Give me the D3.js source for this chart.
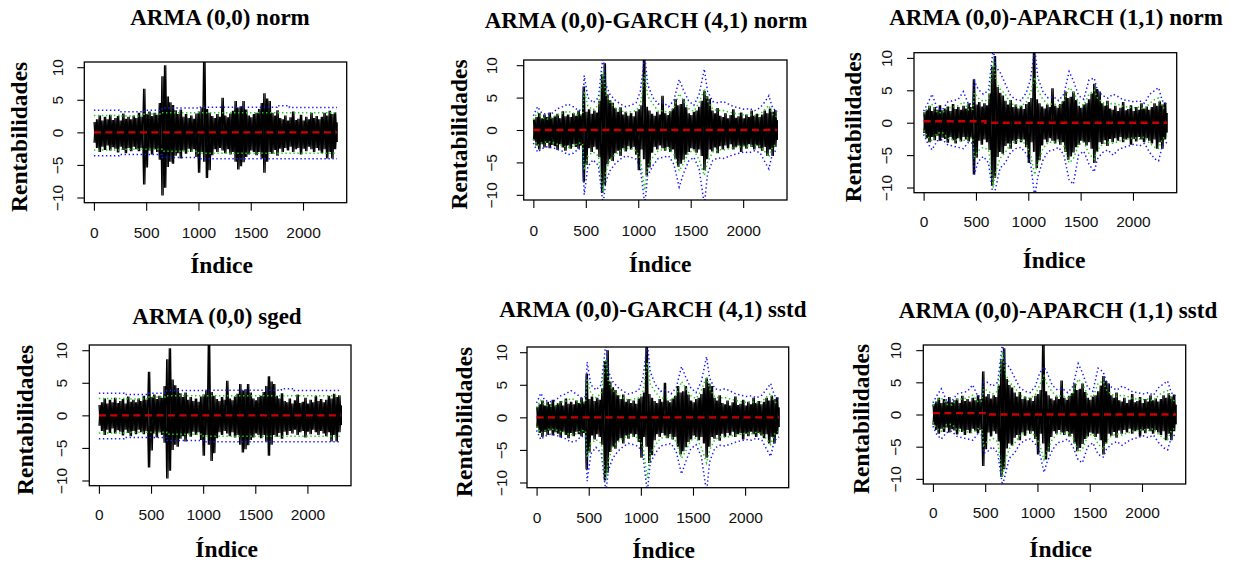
<!DOCTYPE html>
<html><head><meta charset="utf-8">
<script src="https://cdn.jsdelivr.net/npm/d3@7"></script>
<style>body{margin:0;background:#fff}svg{display:block}</style>
</head><body>
<svg id="chart" width="1236" height="565"></svg>
<script>
// ---------------- DATA ----------------
const nObs = 2325;
const xTicks = [0, 500, 1000, 1500, 2000];
const yTicks = [-10, -5, 0, 5, 10];
const retBinStep = 25; // returns envelope bins (index 0, 25, ..., 2325)
const retHigh = [1.6,2.0,2.6,1.8,2.4,2.0,2.7,1.9,2.2,2.5,
  1.8,2.9,2.1,2.4,2.0,2.6,2.2,3.0,2.4,6.7,
  2.8,3.2,2.5,3.0,2.7,4.5,8.6,10.3,5.5,4.6,
  4.2,3.4,2.8,3.5,2.4,2.8,2.2,2.6,2.1,2.9,
  3.2,3.8,12.5,3.6,3.0,2.5,2.2,2.8,2.4,5.3,
  2.6,2.3,2.9,3.3,4.8,3.8,4.0,4.8,3.5,2.6,
  2.3,2.8,3.0,3.6,4.5,6.0,5.2,4.8,3.0,2.6,
  3.4,2.2,2.0,2.6,1.8,2.3,3.2,1.9,2.1,2.7,
  1.8,2.4,2.0,3.0,2.2,2.5,2.0,2.4,3.0,2.6,
  3.3,2.8,3.1,1.5];
const retLow = [-1.6,-2.4,-3.0,-2.2,-2.7,-2.0,-2.8,-2.3,-2.5,-3.1,
  -2.2,-2.7,-3.2,-2.4,-2.9,-2.2,-2.6,-2.9,-2.4,-8.0,
  -5.4,-2.8,-3.4,-2.6,-3.0,-4.2,-9.7,-8.5,-5.3,-4.5,
  -4.8,-3.6,-3.2,-4.0,-2.8,-3.3,-2.5,-3.0,-2.6,-3.8,
  -6.2,-3.0,-4.5,-7.0,-5.8,-3.5,-2.6,-3.0,-2.4,-2.8,
  -3.2,-2.6,-3.4,-3.0,-4.5,-5.7,-5.2,-4.6,-3.8,-3.4,
  -2.8,-3.0,-3.5,-3.0,-4.0,-6.2,-4.5,-3.0,-3.3,-2.7,
  -3.6,-2.5,-3.0,-2.4,-2.8,-2.2,-3.0,-2.6,-2.4,-3.4,
  -2.5,-2.9,-2.2,-2.6,-3.0,-2.4,-2.8,-3.2,-2.6,-4.0,
  -3.0,-4.0,-2.6,-1.5];

// constant-variance models (step bands)
const constIdx = [0, 240, 480, 650, 1000, 1750, 1870, 2325];
const normBlueUp  = [3.4, 3.15, 3.4, 3.75, 3.85, 4.1, 3.8, 3.8];
const normBlueLo  = [-3.6, -3.4, -3.4, -3.85, -4.05, -4.05, -4.05, -4.05];
const normGreenUp = [2.6, 2.5, 2.8, 3.0, 3.0, 3.0, 3.0, 3.0];
const normGreenLo = [-2.7, -2.6, -2.6, -2.9, -3.2, -3.2, -3.2, -3.2];
const sgedBlueUp  = [3.4, 3.2, 3.4, 3.8, 3.85, 4.1, 3.8, 3.8];
const sgedBlueLo  = [-3.6, -3.4, -3.4, -3.85, -4.05, -4.05, -4.05, -4.05];
const sgedGreenUp = [2.6, 2.5, 2.8, 3.0, 3.0, 3.0, 3.0, 3.0];
const sgedGreenLo = [-2.7, -2.6, -2.6, -2.9, -3.2, -3.2, -3.2, -3.2];

// time-varying bands (GARCH / APARCH)
const bandIdx = [0,40,80,130,180,230,280,330,380,430,
  470,485,520,570,620,665,690,730,780,830,
  880,930,980,1020,1062,1090,1140,1190,1240,1290,
  1340,1390,1430,1480,1530,1580,1630,1660,1710,1760,
  1810,1860,1910,1960,2010,2060,2110,2160,2210,2245,
  2280,2325];
const garchNormBlueUp = [2.2,3.6,2.6,2.4,2.6,3.3,3.6,4.0,3.6,3.0, 3.2,8.4,5.0,4.2,5.0,11.5,7.0,5.5,4.6,4.0, 3.6,3.8,4.2,6.0,11.5,7.0,5.0,4.0,4.2,3.6, 4.6,7.8,6.2,4.5,3.8,5.5,9.4,6.0,4.4,4.2, 4.4,4.0,3.6,3.4,3.2,3.3,3.0,3.4,4.4,5.3, 3.4,2.8];
const garchNormGreenUp = [1.6,2.7,1.9,1.7,1.9,2.3,2.6,2.9,2.6,2.2, 2.4,6.0,3.7,3.1,3.8,9.0,5.5,4.3,3.4,3.0, 2.7,2.8,3.0,4.0,8.6,5.2,4.0,2.9,3.0,2.6, 3.4,5.6,4.6,3.3,2.9,4.2,6.4,4.5,3.2,3.0, 3.0,2.8,2.6,2.5,2.3,2.4,2.2,2.4,3.2,3.8, 2.4,2.0];
const garchNormGreenLo = [-1.4,-2.4,-2.0,-1.8,-1.9,-2.2,-2.4,-2.7,-2.5,-2.0, -2.1,-6.2,-4.0,-3.4,-4.0,-9.5,-6.5,-4.5,-3.8,-3.2, -2.8,-2.9,-3.2,-4.5,-9.3,-5.5,-4.2,-3.2,-3.0,-2.8, -3.8,-6.3,-5.2,-3.5,-3.1,-4.6,-7.0,-5.0,-3.4,-3.0, -3.1,-2.9,-2.7,-2.6,-2.4,-2.5,-2.3,-2.5,-3.4,-4.2, -2.6,-2.1];
const garchNormBlueLo = [-2.0,-3.4,-2.9,-2.6,-2.7,-3.0,-3.3,-3.8,-3.6,-2.9, -3.0,-10.0,-5.6,-4.6,-5.5,-11.5,-8.0,-6.3,-5.2,-4.5, -4.0,-4.2,-4.5,-5.8,-11.5,-7.0,-5.5,-4.4,-4.2,-4.0, -5.3,-8.8,-6.8,-4.8,-4.2,-6.0,-11.5,-6.8,-4.7,-4.3, -4.4,-4.1,-3.8,-3.6,-3.4,-3.5,-3.2,-3.5,-5.0,-6.0, -3.6,-3.0];

const garchSstdBlueUp = [2.2,3.7,2.6,2.4,2.6,3.3,3.6,4.1,3.6,3.0, 3.2,8.5,5.0,4.2,5.0,11.5,7.0,5.5,4.6,4.0, 3.6,3.8,4.2,6.0,11.5,7.0,5.0,4.0,4.2,3.6, 4.6,7.8,6.2,4.5,3.8,5.5,9.3,6.0,4.4,4.2, 4.4,4.0,3.6,3.4,3.2,3.3,3.0,3.4,4.4,5.2, 3.4,2.8];
const garchSstdGreenUp = [1.5,2.6,1.9,1.7,1.8,2.3,2.5,2.9,2.6,2.1, 2.3,6.0,3.7,3.0,3.7,9.0,5.4,4.2,3.4,3.0, 2.6,2.8,3.0,4.0,8.5,5.1,3.9,2.9,3.0,2.6, 3.4,5.5,4.5,3.3,2.9,4.1,6.3,4.4,3.1,3.0, 3.0,2.8,2.6,2.4,2.3,2.4,2.2,2.4,3.2,3.7, 2.4,2.0];
const garchSstdGreenLo = [-1.4,-2.4,-2.0,-1.8,-1.9,-2.2,-2.4,-2.7,-2.5,-2.0, -2.1,-6.2,-4.0,-3.4,-4.0,-9.6,-6.5,-4.5,-3.8,-3.2, -2.8,-2.9,-3.2,-4.5,-9.3,-5.5,-4.2,-3.2,-3.0,-2.8, -3.8,-6.3,-5.2,-3.5,-3.1,-4.6,-7.0,-5.0,-3.4,-3.0, -3.1,-2.9,-2.7,-2.6,-2.4,-2.5,-2.3,-2.5,-3.4,-4.2, -2.6,-2.1];
const garchSstdBlueLo = [-2.0,-3.4,-2.9,-2.6,-2.7,-3.0,-3.3,-3.8,-3.6,-2.9, -3.0,-9.8,-5.6,-4.6,-5.5,-11.5,-8.0,-6.3,-5.2,-4.5, -4.0,-4.2,-4.5,-5.8,-11.5,-7.0,-5.5,-4.4,-4.2,-4.0, -5.3,-8.7,-6.8,-4.8,-4.2,-6.0,-11.5,-6.8,-4.7,-4.3, -4.4,-4.1,-3.8,-3.6,-3.4,-3.5,-3.2,-3.5,-5.0,-6.0, -3.6,-3.0];

const aparchNormBlueUp = [1.8,3.0,4.4,2.2,2.0,3.2,3.4,3.6,4.8,2.8, 3.0,6.4,5.2,4.4,5.0,11.5,8.6,7.8,6.0,4.2, 3.6,3.4,4.6,6.6,11.5,7.0,4.8,3.8,4.0,3.4, 4.4,7.9,6.5,4.2,3.6,6.6,6.9,5.0,4.2,3.8, 4.4,4.0,3.5,3.4,3.2,3.4,3.0,4.4,5.0,5.4, 3.4,2.8];
const aparchNormGreenUp = [1.4,2.2,2.8,1.6,1.5,2.3,2.4,2.6,3.2,2.0, 2.1,4.6,3.8,3.3,3.6,9.6,6.5,5.2,4.4,3.0, 2.6,2.5,3.2,4.6,7.0,5.0,3.6,2.8,2.9,2.6, 3.3,5.4,4.8,3.1,2.7,4.4,5.0,3.8,3.1,2.8, 3.0,2.8,2.5,2.4,2.3,2.4,2.1,3.0,3.6,3.8, 2.4,2.0];
const aparchNormGreenLo = [-1.2,-2.2,-2.8,-1.6,-1.5,-2.4,-2.6,-2.7,-2.8,-2.2, -2.4,-5.5,-4.3,-3.8,-4.2,-10.0,-7.5,-5.5,-4.6,-3.3, -2.8,-2.7,-3.4,-4.8,-8.0,-6.2,-4.0,-3.0,-3.0,-2.8, -3.6,-6.2,-5.6,-3.4,-3.0,-4.8,-5.6,-4.2,-3.3,-3.0, -3.2,-2.9,-2.6,-2.5,-2.3,-2.5,-2.2,-3.2,-3.8,-4.0, -2.5,-2.0];
const aparchNormBlueLo = [-1.8,-3.2,-4.2,-2.8,-2.6,-3.4,-3.6,-3.8,-4.0,-3.0, -3.2,-8.0,-6.0,-5.2,-6.2,-11.5,-10.0,-7.0,-6.2,-4.6, -4.0,-3.8,-4.8,-6.0,-11.5,-8.4,-5.8,-4.4,-4.2,-3.8, -5.0,-8.8,-9.5,-5.0,-4.4,-6.4,-7.6,-5.6,-4.6,-4.2, -5.0,-4.2,-3.8,-3.6,-3.3,-3.6,-3.2,-4.6,-5.6,-5.9, -3.6,-3.0];

const aparchSstdBlueUp = [1.8,3.0,4.0,2.2,2.0,3.2,3.4,3.6,4.6,2.8, 3.0,5.0,5.0,4.4,5.0,11.0,8.0,7.4,5.8,4.2, 3.6,3.4,4.4,6.4,7.4,6.6,4.6,3.8,4.0,3.4, 4.4,7.9,6.5,4.2,3.6,7.2,6.6,5.0,4.2,3.8, 4.4,4.0,3.5,3.4,3.2,3.4,3.0,4.2,4.8,5.2, 3.4,2.8];
const aparchSstdGreenUp = [1.4,2.2,2.6,1.6,1.5,2.3,2.4,2.6,3.0,2.0, 2.1,4.0,3.7,3.2,3.6,9.8,6.5,5.0,4.3,3.0, 2.6,2.5,3.1,4.5,6.0,4.8,3.5,2.8,2.9,2.6, 3.3,5.5,4.8,3.1,2.7,4.8,5.2,3.8,3.1,2.8, 3.0,2.8,2.5,2.4,2.3,2.4,2.1,3.0,3.5,3.7, 2.4,2.0];
const aparchSstdGreenLo = [-1.2,-2.2,-2.6,-1.6,-1.5,-2.4,-2.6,-2.7,-2.8,-2.2, -2.4,-4.8,-4.2,-3.7,-4.2,-9.8,-7.2,-5.3,-4.5,-3.3, -2.8,-2.7,-3.3,-4.6,-7.0,-5.8,-3.9,-3.0,-3.0,-2.8, -3.6,-5.8,-5.4,-3.4,-3.0,-4.6,-5.4,-4.1,-3.3,-3.0, -3.2,-2.9,-2.6,-2.5,-2.3,-2.5,-2.2,-3.1,-3.7,-3.9, -2.5,-2.0];
const aparchSstdBlueLo = [-1.8,-3.2,-3.8,-2.8,-2.6,-3.4,-3.6,-3.8,-4.0,-3.0, -3.2,-6.0,-5.8,-5.0,-6.0,-11.0,-9.5,-6.8,-6.0,-4.6, -4.0,-3.8,-4.6,-5.8,-9.0,-7.5,-5.6,-4.4,-4.2,-3.8, -5.0,-7.1,-7.5,-5.0,-4.4,-6.2,-6.6,-5.4,-4.6,-4.2, -4.8,-4.2,-3.8,-3.6,-3.3,-3.6,-3.2,-4.4,-5.2,-5.5, -3.6,-3.0];

// conditional mean (red dashed), step values
const meanIdxZero = [0, 2325];
const meanValZero = [0, 0];
const meanIdxAparchNorm = [0, 590, 2325];
const meanValAparchNorm = [0.22, 0.0, 0.0];
const meanIdxAparchSstd = [0, 510, 2325];
const meanValAparchSstd = [0.22, 0.0, 0.0];

const titles = ["ARMA (0,0) norm", "ARMA (0,0)-GARCH (4,1) norm", "ARMA (0,0)-APARCH (1,1) norm",
                "ARMA (0,0) sged", "ARMA (0,0)-GARCH (4,1) sstd", "ARMA (0,0)-APARCH (1,1) sstd"];
const yLabel = "Rentabilidades";
const xLabel = "Índice";

// ---------------- LAYOUT ----------------
const panels = [
  {L:84.3, R:346.7, T:62, B:202.7, tx:220, ty:25, ylb:26.7, xlx:221.5, xly:273, ytOff:21, xtOff:35.6,
   idx:constIdx, bu:normBlueUp, gu:normGreenUp, gl:normGreenLo, bl:normBlueLo, step:true, mIdx:meanIdxZero, mVal:meanValZero},
  {L:523.7, R:787, T:60, B:200, tx:646, ty:28.3, ylb:467, xlx:660, xly:271.7, ytOff:26.7, xtOff:35.7,
   idx:bandIdx, bu:garchNormBlueUp, gu:garchNormGreenUp, gl:garchNormGreenLo, bl:garchNormBlueLo, step:false, mIdx:meanIdxZero, mVal:meanValZero},
  {L:914, R:1176.7, T:52.7, B:192.7, tx:1056, ty:25, ylb:861.3, xlx:1054, xly:268, ytOff:21.7, xtOff:34,
   idx:bandIdx, bu:aparchNormBlueUp, gu:aparchNormGreenUp, gl:aparchNormGreenLo, bl:aparchNormBlueLo, step:false, mIdx:meanIdxAparchNorm, mVal:meanValAparchNorm},
  {L:89.3, R:351, T:345, B:485.7, tx:217, ty:324.3, ylb:32.7, xlx:226.7, xly:556.7, ytOff:22.6, xtOff:34.3,
   idx:constIdx, bu:sgedBlueUp, gu:sgedGreenUp, gl:sgedGreenLo, bl:sgedBlueLo, step:true, mIdx:meanIdxZero, mVal:meanValZero},
  {L:527, R:788.7, T:347, B:487.7, tx:652.8, ty:316.7, ylb:472, xlx:663.7, xly:558, ytOff:20, xtOff:35.6,
   idx:bandIdx, bu:garchSstdBlueUp, gu:garchSstdGreenUp, gl:garchSstdGreenLo, bl:garchSstdBlueLo, step:false, mIdx:meanIdxZero, mVal:meanValZero},
  {L:923.3, R:1185.7, T:345, B:484, tx:1058, ty:318.3, ylb:869, xlx:1060.7, xly:556.7, ytOff:22.6, xtOff:34.3,
   idx:bandIdx, bu:aparchSstdBlueUp, gu:aparchSstdGreenUp, gl:aparchSstdGreenLo, bl:aparchSstdBlueLo, step:false, mIdx:meanIdxAparchSstd, mVal:meanValAparchSstd}
];

const serif = "'Liberation Serif','Times New Roman',serif";
const sans = "'Liberation Sans',Arial,sans-serif";
const svg = d3.select("#chart");
const defs = svg.append("defs");

panels.forEach((p, k) => {
  const g = svg.append("g");
  const pad = 0.04 * (nObs - 1);
  const x = d3.scaleLinear().domain([1 - pad, nObs + pad]).range([p.L, p.R]);
  const y = d3.scaleLinear().domain([-10.8, 10.8]).range([p.B, p.T]);

  defs.append("clipPath").attr("id", "clip" + k).append("rect")
    .attr("x", p.L).attr("y", p.T).attr("width", p.R - p.L).attr("height", p.B - p.T);
  const plot = g.append("g").attr("clip-path", `url(#clip${k})`);

  // returns: two interleaved zig-zags through bin highs and lows (dense line plot look)
  const ptsA = [], ptsB = [];
  retHigh.forEach((h, i) => {
    const i0 = i * retBinStep;
    ptsA.push([Math.max(1, i0), h]);
    ptsA.push([Math.min(nObs, i0 + retBinStep / 2), retLow[i]]);
    ptsB.push([Math.max(1, i0), retLow[i]]);
    ptsB.push([Math.min(nObs, i0 + retBinStep / 2), h]);
  });
  const retLine = d3.line().x(d => x(d[0])).y(d => y(d[1]));
  [ptsA, ptsB].forEach(pts => {
    plot.append("path").datum(pts).attr("d", retLine)
      .attr("fill", "none").attr("stroke", "#000").attr("stroke-width", 1.2);
  });

  const bandLine = d3.line().curve(p.step ? d3.curveStepAfter : d3.curveLinear)
    .x(d => x(d[0])).y(d => y(d[1]));
  const drawBand = (vals, col) => {
    plot.append("path").datum(p.idx.map((ix, i) => [ix, vals[i]]))
      .attr("d", bandLine).attr("fill", "none").attr("stroke", col)
      .attr("stroke-width", 1.5).attr("stroke-dasharray", "1.4,2.6");
  };
  drawBand(p.bu, "#1a1aff");
  drawBand(p.bl, "#1a1aff");
  drawBand(p.gu, "#22cc22");
  drawBand(p.gl, "#22cc22");

  // mean
  plot.append("path").datum(p.mIdx.map((ix, i) => [ix, p.mVal[i]]))
    .attr("d", d3.line().curve(d3.curveStepAfter).x(d => x(d[0])).y(d => y(d[1])))
    .attr("fill", "none").attr("stroke", "#cc0000").attr("stroke-width", 2.4)
    .attr("stroke-dasharray", "7,4.5");

  // box
  g.append("rect").attr("x", p.L).attr("y", p.T).attr("width", p.R - p.L).attr("height", p.B - p.T)
    .attr("fill", "none").attr("stroke", "#000").attr("stroke-width", 1.3);

  // axes
  const gx = g.append("g").attr("transform", `translate(0,${p.B})`)
    .call(d3.axisBottom(x).tickValues(xTicks).tickSize(8).tickFormat(d3.format("d")));
  gx.select(".domain").remove();
  gx.selectAll("line").attr("stroke", "#000").attr("stroke-width", 1.1);
  gx.selectAll("text").attr("y", p.xtOff).attr("dy", null)
    .style("font-family", sans).style("font-size", "15.5px").attr("fill", "#111");

  const gy = g.append("g").attr("transform", `translate(${p.L},0)`)
    .call(d3.axisLeft(y).tickValues(yTicks).tickSize(7).tickFormat(d3.format("d")));
  gy.select(".domain").remove();
  gy.selectAll("line").attr("stroke", "#000").attr("stroke-width", 1.1);
  gy.selectAll("text").attr("x", null).attr("dy", null)
    .attr("transform", `translate(${-p.ytOff},0) rotate(-90)`)
    .attr("text-anchor", "middle")
    .style("font-family", sans).style("font-size", "15.5px").attr("fill", "#111");

  // labels
  g.append("text").attr("x", p.tx).attr("y", p.ty).attr("text-anchor", "middle")
    .style("font-family", serif).style("font-weight", "bold").style("font-size", "23px")
    .text(titles[k]);
  g.append("text").attr("transform", `translate(${p.ylb},${(p.T + p.B) / 2 + 4.5}) rotate(-90)`)
    .attr("text-anchor", "middle")
    .style("font-family", serif).style("font-weight", "bold").style("font-size", "23.5px")
    .text(yLabel);
  g.append("text").attr("x", p.xlx).attr("y", p.xly).attr("text-anchor", "middle")
    .style("font-family", serif).style("font-weight", "bold").style("font-size", "23.5px")
    .text(xLabel);
});
</script>
</body></html>
